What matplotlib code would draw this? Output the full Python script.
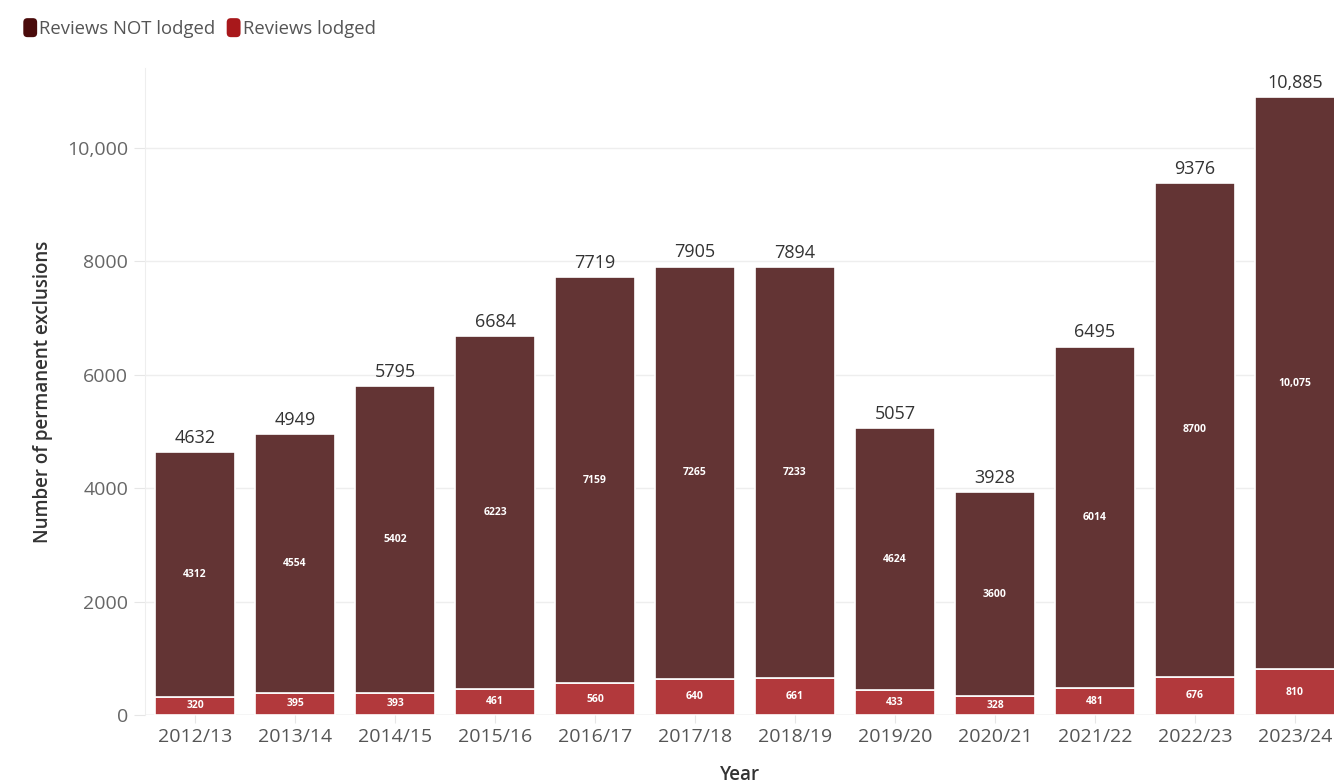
import matplotlib
matplotlib.use("Agg")
import matplotlib.pyplot as plt
from matplotlib.patches import FancyBboxPatch
from matplotlib.legend_handler import HandlerPatch

years = ["2012/13", "2013/14", "2014/15", "2015/16", "2016/17", "2017/18",
         "2018/19", "2019/20", "2020/21", "2021/22", "2022/23", "2023/24"]
lodged = [320, 395, 393, 461, 560, 640, 661, 433, 328, 481, 676, 810]
not_lodged = [4312, 4554, 5402, 6223, 7159, 7265, 7233, 4624, 3600, 6014, 8700, 10075]
totals = [4632, 4949, 5795, 6684, 7719, 7905, 7894, 5057, 3928, 6495, 9376, 10885]

plt.rcParams['font.family'] = ['Open Sans', 'DejaVu Sans']

fig = plt.figure(figsize=(13.34, 7.83), dpi=100)
ax = fig.add_axes([0.1087, 0.0868, 0.8913, 0.826])

x = list(range(len(years)))
c_low = "#b2393c"
c_high = "#633434"
ax.bar(x, lodged, width=0.8, color=c_low, edgecolor="white", linewidth=1.2, zorder=3)
ax.bar(x, not_lodged, bottom=lodged, width=0.8, color=c_high, edgecolor="white", linewidth=1.2, zorder=3)

def fmt(v):
    return f"{v:,}" if v >= 10000 else str(v)

for xi, lo, hi, tot in zip(x, lodged, not_lodged, totals):
    ax.text(xi, lo / 2, fmt(lo), ha="center", va="center", color="white",
            fontsize=7.5, fontweight="bold", zorder=4)
    ax.text(xi, lo + hi / 2, fmt(hi), ha="center", va="center", color="white",
            fontsize=7.5, fontweight="bold", zorder=4)
    ax.text(xi, tot + 90, fmt(tot), ha="center", va="bottom", color="#333333",
            fontsize=13, fontweight="medium", zorder=4)

ax.set_xlim(-0.5, 11.39)
ax.set_ylim(0, 11400)
ax.set_yticks([0, 2000, 4000, 6000, 8000, 10000])
ax.set_yticklabels(["0", "2000", "4000", "6000", "8000", "10,000"])
ax.set_xticks(x)
ax.set_xticklabels(years)
ax.tick_params(axis="both", colors="#e6e6e6", labelcolor="#666666", labelsize=14, length=8, pad=4)
ax.tick_params(axis="x", length=6, labelcolor="#555555", pad=3)
ax.grid(axis="y", color="#eeeeee", linewidth=1, zorder=0)
for s in ["top", "right", "bottom"]:
    ax.spines[s].set_visible(False)
ax.spines["left"].set_color("#eeeeee")
ax.axhline(0, color="#dddddd", linewidth=1, zorder=2)

ax.set_ylabel("Number of permanent exclusions", fontsize=13.5, color="#333333", fontweight="semibold", labelpad=14)
ax.yaxis.set_label_coords(-0.0775, 0.5)
ax.set_xlabel("Year", fontsize=13.5, color="#333333", fontweight="semibold", labelpad=14)

class RoundHandler(HandlerPatch):
    def create_artists(self, legend, orig_handle, xdescent, ydescent, width, height, fontsize, trans):
        p = FancyBboxPatch((xdescent, -ydescent - height * 0.1), width, height * 1.15,
                           boxstyle="round,pad=0,rounding_size=3",
                           facecolor=orig_handle.get_facecolor(), edgecolor="none", transform=trans)
        return [p]

h1 = plt.Rectangle((0, 0), 1, 1, facecolor="#4a0b0b")
h2 = plt.Rectangle((0, 0), 1, 1, facecolor="#a8181b")
leg = fig.legend([h1, h2], ["Reviews NOT lodged", "Reviews lodged"], loc="upper left",
                 bbox_to_anchor=(0.005, 0.997), ncol=2, frameon=False, fontsize=13.3,
                 handler_map={plt.Rectangle: RoundHandler()}, handlelength=0.75, handleheight=1.0,
                 handletextpad=0.12, columnspacing=0.6)
for t in leg.get_texts():
    t.set_color("#555555")

fig.savefig("out.png", dpi=100)
